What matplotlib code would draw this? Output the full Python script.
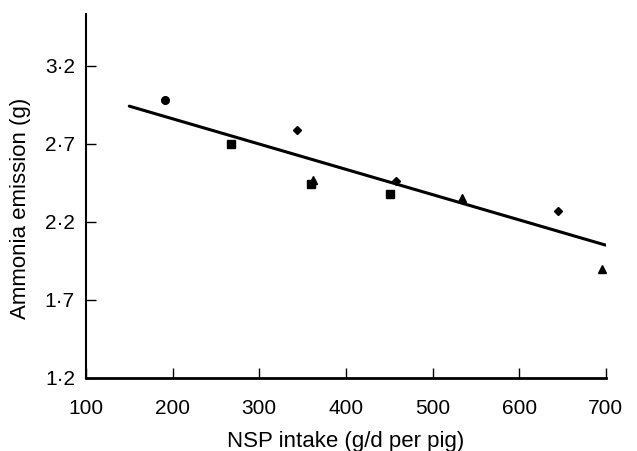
import numpy as np
import matplotlib
matplotlib.use('Agg')
import matplotlib.pyplot as plt
from matplotlib.ticker import FuncFormatter

plt.rcParams['font.family'] = ['Liberation Sans', 'DejaVu Sans']

# points, grouped by marker
circle_x = [191]
circle_y = [2.98]
square_x = [267, 360, 451]
square_y = [2.70, 2.44, 2.38]
diamond_x = [343, 458, 645]
diamond_y = [2.79, 2.46, 2.27]
triangle_x = [362, 534, 696]
triangle_y = [2.47, 2.35, 1.90]

# fitted line endpoints
fit_x = [150, 700]
fit_y = [2.94, 2.05]

xticks = [100, 200, 300, 400, 500, 600, 700]
yticks = [1.2, 1.7, 2.2, 2.7, 3.2]

fig = plt.figure(figsize=(6.37, 4.51), dpi=100)
ax = fig.add_axes([0.135, 0.162, 0.816, 0.807])

ax.plot(fit_x, fit_y, color='black', lw=2.2, solid_capstyle='round')
ax.plot(circle_x, circle_y, 'o', color='black', ms=5.5)
ax.plot(square_x, square_y, 's', color='black', ms=5.5)
ax.plot(diamond_x, diamond_y, 'D', color='black', ms=4)
ax.plot(triangle_x, triangle_y, '^', color='black', ms=5.5)

ax.set_xlim(100, 700)
ax.set_ylim(1.2, 3.53)
ax.set_xticks(xticks)
ax.set_yticks(yticks)
ax.yaxis.set_major_formatter(FuncFormatter(lambda v, p: ('%.1f' % v).replace('.', '\u00b7')))

for s in ['top', 'right']:
    ax.spines[s].set_visible(False)
ax.spines['bottom'].set_linewidth(2.0)
ax.spines['left'].set_linewidth(1.5)

ax.tick_params(axis='x', direction='in', length=7, width=1.0, pad=15, labelsize=15)
ax.tick_params(axis='y', direction='in', length=7, width=1.0, pad=8, labelsize=15)

ax.set_xlabel('NSP intake (g/d per pig)', fontsize=16)
ax.set_ylabel('Ammonia emission (g)', fontsize=16)
ax.xaxis.set_label_coords(0.5, -0.145)
ax.yaxis.set_label_coords(-0.106, 0.466)

plt.savefig('out.png', dpi=100)
